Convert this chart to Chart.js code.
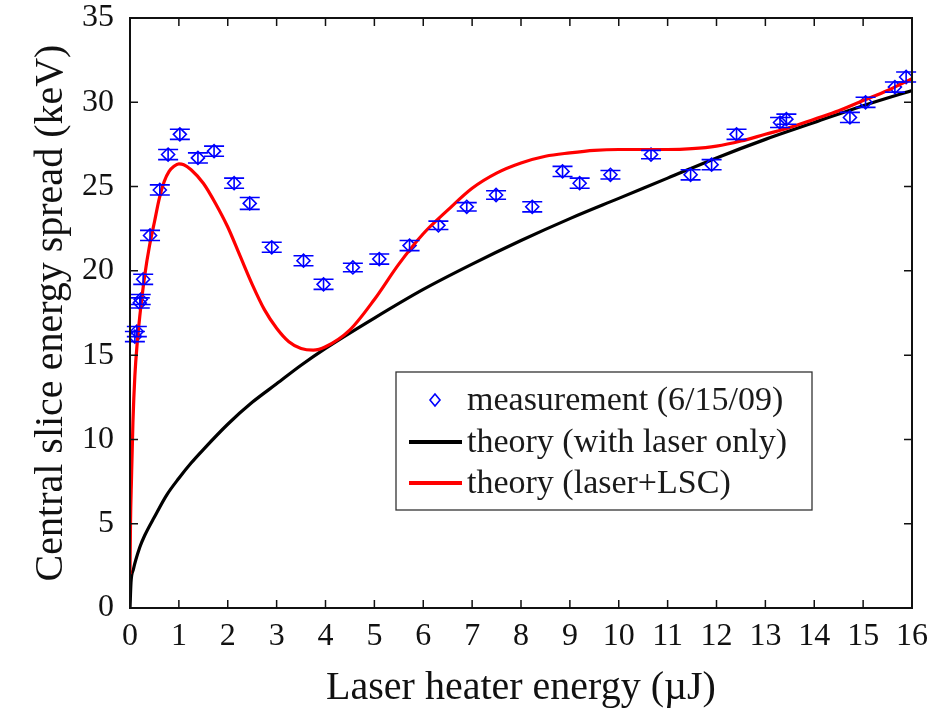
<!DOCTYPE html>
<html>
<head>
<meta charset="utf-8">
<script src="https://cdn.jsdelivr.net/npm/chart.js@4"></script>
<style>
  html, body { margin: 0; padding: 0; background: #fff; }
  #wrap { width: 945px; height: 709px; }
</style>
</head>
<body>
<div id="wrap"><canvas id="spread-chart"></canvas></div>
<script>
// measured central slice energy spread (keV) vs laser heater energy (uJ)
var measX = [0.10, 0.14, 0.20, 0.22, 0.27, 0.41, 0.61, 0.78, 1.02, 1.39, 1.72, 2.13, 2.45, 2.90,
  3.55, 3.96, 4.56, 5.10, 5.72, 6.31, 6.89, 7.49, 8.23, 8.85, 9.20, 9.83, 10.66, 11.47, 11.90,
  12.41, 13.30, 13.43, 14.73, 15.05, 15.65, 15.88];
var measY = [16.1, 16.4, 18.1, 18.3, 19.5, 22.1, 24.8, 26.9, 28.1, 26.7, 27.1, 25.2, 24.0, 21.4,
  20.6, 19.2, 20.2, 20.7, 21.5, 22.7, 23.8, 24.5, 23.8, 25.9, 25.2, 25.7, 26.9, 25.7, 26.3,
  28.1, 28.8, 29.0, 29.1, 30.0, 30.9, 31.5];
var measErr = [0.3, 0.3, 0.3, 0.3, 0.3, 0.3, 0.3, 0.3, 0.3, 0.3, 0.3, 0.3, 0.35, 0.3,
  0.3, 0.3, 0.25, 0.3, 0.3, 0.25, 0.25, 0.25, 0.3, 0.3, 0.3, 0.25, 0.25, 0.3, 0.3,
  0.3, 0.3, 0.3, 0.3, 0.3, 0.3, 0.3];

// theory, laser only
var laserX = [0, 0.02, 0.07, 0.2, 0.3, 0.5, 0.75, 1, 1.25, 1.5, 2, 2.5, 3, 3.5, 4, 5, 6, 7, 8, 9,
  10, 11, 12, 13, 14, 15, 16];
var laserY = [0, 1.5, 2.3, 3.6, 4.3, 5.4, 6.7, 7.7, 8.6, 9.4, 10.9, 12.2, 13.3, 14.4, 15.4, 17.2,
  18.9, 20.4, 21.8, 23.1, 24.3, 25.5, 26.7, 27.8, 28.8, 29.8, 30.7];

// theory, laser + LSC
var lscX = [0, 0.01, 0.03, 0.06, 0.1, 0.15, 0.2, 0.3, 0.4, 0.5, 0.6, 0.7, 0.8, 0.9, 1.0, 1.1, 1.25,
  1.5, 1.75, 2.0, 2.25, 2.5, 2.75, 3.0, 3.25, 3.5, 3.75, 4.0, 4.5, 5, 5.5, 6, 6.5, 7, 7.5, 8,
  8.5, 9, 9.5, 10, 10.5, 11, 11.5, 12, 12.5, 13, 13.5, 14, 14.5, 15, 15.5, 16];
var lscY = [2.0, 5.0, 7.6, 11.0, 13.8, 15.8, 17.3, 19.7, 21.5, 22.9, 24.3, 25.3, 25.9, 26.2,
  26.35, 26.3, 26.0, 25.2, 24.0, 22.6, 20.9, 19.2, 17.7, 16.6, 15.8, 15.4, 15.3, 15.5, 16.5,
  18.3, 20.4, 22.2, 23.6, 24.9, 25.8, 26.4, 26.8, 27.0, 27.15, 27.2, 27.2, 27.2, 27.25, 27.4,
  27.7, 28.1, 28.5, 29.0, 29.5, 30.1, 30.7, 31.4];

var legendLabels = ["measurement (6/15/09)", "theory (with laser only)", "theory (laser+LSC)"];

function toPoints(xs, ys) {
  return xs.map(function (x, i) { return { x: x, y: ys[i] }; });
}

var serif = "'Liberation Serif', 'Times New Roman', serif";

// error bars for the measurement series
var errorBars = {
  id: "errorBars",
  afterDatasetsDraw: function (chart) {
    var ctx = chart.ctx;
    var xs = chart.scales.x, ys = chart.scales.y;
    ctx.save();
    ctx.strokeStyle = "#0000ff";
    ctx.lineWidth = 1.6;
    for (var i = 0; i < measX.length; i++) {
      var px = xs.getPixelForValue(measX[i]);
      var top = ys.getPixelForValue(measY[i] + measErr[i]);
      var bot = ys.getPixelForValue(measY[i] - measErr[i]);
      ctx.beginPath();
      ctx.moveTo(px, top); ctx.lineTo(px, bot);
      ctx.moveTo(px - 10, top); ctx.lineTo(px + 10, top);
      ctx.moveTo(px - 10, bot); ctx.lineTo(px + 10, bot);
      ctx.stroke();
    }
    ctx.restore();
  }
};

// matlab-style box with inward ticks
var frame = {
  id: "frame",
  afterDraw: function (chart) {
    var ctx = chart.ctx, a = chart.chartArea;
    var xs = chart.scales.x, ys = chart.scales.y;
    ctx.save();
    ctx.strokeStyle = "#111";
    ctx.lineWidth = 2;
    ctx.strokeRect(a.left, a.top, a.right - a.left, a.bottom - a.top);
    ctx.lineWidth = 1.5;
    ctx.beginPath();
    xs.ticks.forEach(function (t) {
      var px = xs.getPixelForValue(t.value);
      ctx.moveTo(px, a.bottom); ctx.lineTo(px, a.bottom - 8);
      ctx.moveTo(px, a.top); ctx.lineTo(px, a.top + 8);
    });
    ys.ticks.forEach(function (t) {
      var py = ys.getPixelForValue(t.value);
      ctx.moveTo(a.left, py); ctx.lineTo(a.left + 8, py);
      ctx.moveTo(a.right, py); ctx.lineTo(a.right - 8, py);
    });
    ctx.stroke();
    ctx.restore();
  }
};

// legend drawn inside the plot area
var innerLegend = {
  id: "innerLegend",
  afterDraw: function (chart) {
    var ctx = chart.ctx;
    var bx = 396, by = 372, bw = 416, bh = 138;
    ctx.save();
    ctx.fillStyle = "#fff";
    ctx.fillRect(bx, by, bw, bh);
    ctx.strokeStyle = "#333";
    ctx.lineWidth = 1.3;
    ctx.strokeRect(bx, by, bw, bh);
    ctx.font = "34px " + serif;
    ctx.textBaseline = "middle";
    ctx.fillStyle = "#1a1a1a";
    var rows = [400, 442, 483];
    chart.data.datasets.forEach(function (ds, i) {
      var y = rows[i];
      if (i === 0) {
        ctx.strokeStyle = ds.borderColor;
        ctx.lineWidth = 1.6;
        ctx.beginPath();
        ctx.moveTo(435, y - 6); ctx.lineTo(440, y); ctx.lineTo(435, y + 6); ctx.lineTo(430, y);
        ctx.closePath();
        ctx.stroke();
      } else {
        ctx.strokeStyle = ds.borderColor;
        ctx.lineWidth = 4;
        ctx.beginPath();
        ctx.moveTo(409, y); ctx.lineTo(462, y);
        ctx.stroke();
      }
      ctx.fillText(legendLabels[i], 467, y + 1);
    });
    ctx.restore();
  }
};

const ctx = document.getElementById("spread-chart");

const spreadChart = new Chart(ctx, {
  type: "scatter",
  data: {
    datasets: [
      {
        label: legendLabels[0],
        data: toPoints(measX, measY),
        showLine: false,
        pointStyle: "rectRot",
        pointRadius: 6.5,
        pointBorderWidth: 1.6,
        borderColor: "#0000ff",
        backgroundColor: "rgba(0,0,0,0)",
        order: 1,
      },
      {
        label: legendLabels[1],
        data: toPoints(laserX, laserY),
        showLine: true,
        borderColor: "#000000",
        borderWidth: 3.2,
        pointRadius: 0,
        cubicInterpolationMode: "monotone",
        order: 2,
      },
      {
        label: legendLabels[2],
        data: toPoints(lscX, lscY),
        showLine: true,
        borderColor: "#ff0000",
        borderWidth: 3.2,
        pointRadius: 0,
        cubicInterpolationMode: "monotone",
        order: 0,
      },
    ],
  },
  options: {
    responsive: true,
    maintainAspectRatio: false,
    animation: false,
    layout: { padding: { left: 0, right: 33, top: 18, bottom: 0 } },
    plugins: {
      legend: { display: false },
      tooltip: { enabled: false },
    },
    scales: {
      x: {
        type: "linear",
        min: 0,
        max: 16,
        grid: { display: false, drawTicks: false },
        border: { display: false },
        ticks: {
          stepSize: 1,
          padding: 9,
          color: "#111",
          font: { size: 32, family: serif },
        },
        title: {
          display: true,
          text: "Laser heater energy (\u00b5J)",
          color: "#111",
          font: { size: 40, family: serif },
          padding: { top: 0, bottom: -3 },
        },
        afterFit: function (scale) {
          scale.height = 101;
          scale.paddingLeft = 0;
          scale.paddingRight = 0;
        },
      },
      y: {
        type: "linear",
        min: 0,
        max: 35,
        grid: { display: false, drawTicks: false },
        border: { display: false },
        ticks: {
          stepSize: 5,
          padding: 16,
          color: "#111",
          font: { size: 32, family: serif },
        },
        title: {
          display: true,
          text: "Central slice energy spread (keV)",
          color: "#111",
          font: { size: 40, family: serif },
          padding: { top: 27, bottom: 0 },
        },
        afterFit: function (scale) {
          scale.width = 130;
          scale.paddingTop = 0;
          scale.paddingBottom = 0;
        },
      },
    },
  },
  plugins: [errorBars, frame, innerLegend],
});
</script>
</body>
</html>
